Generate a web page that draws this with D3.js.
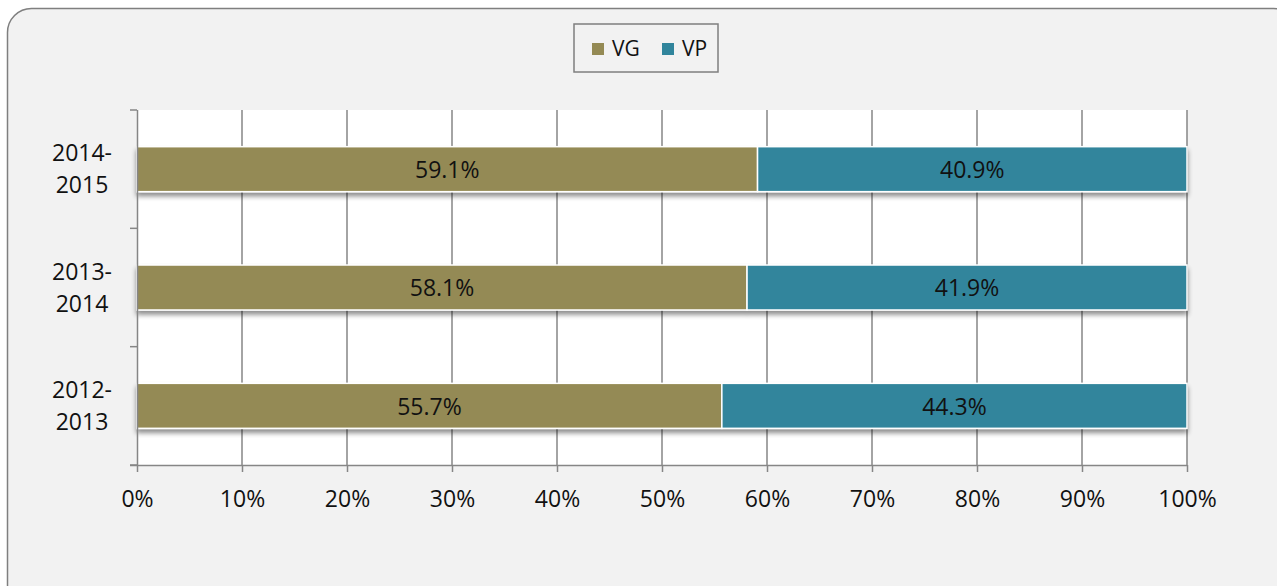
<!DOCTYPE html>
<html>
<head>
<meta charset="utf-8">
<script src="https://cdn.jsdelivr.net/npm/d3@7"></script>
<style>
  body { margin: 0; background: #fff; }
  svg { display: block; font-family: "Open Sans", sans-serif; }
</style>
</head>
<body>
<div id="chart"></div>
<script>
var categories = ["2014-2015", "2013-2014", "2012-2013"];
var vgValues = [59.1, 58.1, 55.7];
var vpValues = [40.9, 41.9, 44.3];
var seriesNames = ["VG", "VP"];
var seriesColors = ["#948a54", "#31859c"];
var xTicks = [0, 10, 20, 30, 40, 50, 60, 70, 80, 90, 100];

var W = 1277, H = 586;
var margin = { top: 110, right: 90, bottom: 121, left: 137 };
var w = W - margin.left - margin.right,
    h = H - margin.top - margin.bottom;
var fontSize = 23;

var svg = d3.select("#chart").append("svg")
  .attr("width", W)
  .attr("height", H);

var defs = svg.append("defs");
var shadow = defs.append("filter").attr("id", "shadow")
  .attr("x", "-5%").attr("y", "-20%").attr("width", "110%").attr("height", "160%");
shadow.append("feGaussianBlur").attr("in", "SourceAlpha").attr("stdDeviation", 2.5);
shadow.append("feOffset").attr("dx", 0).attr("dy", 4).attr("result", "blur");
shadow.append("feComponentTransfer").append("feFuncA").attr("type", "linear").attr("slope", 0.45);
var merge = shadow.append("feMerge");
merge.append("feMergeNode");
merge.append("feMergeNode").attr("in", "SourceGraphic");

// outer frame
svg.append("rect")
  .attr("x", 7.5).attr("y", 8.5)
  .attr("width", 1290).attr("height", 600)
  .attr("rx", 24)
  .attr("fill", "#f2f2f2")
  .attr("stroke", "#7f7f7f")
  .attr("stroke-width", 1.5);

var g = svg.append("g")
  .attr("transform", "translate(" + margin.left + "," + margin.top + ")");

g.append("rect")
  .attr("width", w).attr("height", h)
  .attr("fill", "#fff");

var xScale = d3.scaleLinear().domain([0, 100]).range([0, w]);
var yScale = d3.scaleBand().domain(categories).range([0, h]).paddingInner(0.62).paddingOuter(0.31);
var yBand = d3.scaleBand().domain(categories).range([0, h]);

// gridlines
g.selectAll(".grid")
  .data(xTicks.slice(1))
  .enter().append("line")
  .attr("class", "grid")
  .attr("x1", function(d) { return xScale(d); })
  .attr("x2", function(d) { return xScale(d); })
  .attr("y1", 0).attr("y2", h)
  .attr("stroke", "#868686")
  .attr("stroke-width", 1.5);

var rows = categories.map(function(c, i) {
  return { cat: c, vg: vgValues[i], vp: vpValues[i] };
});

var rowG = g.selectAll(".row")
  .data(rows)
  .enter().append("g")
  .attr("class", "row")
  .attr("filter", "url(#shadow)");

rowG.append("rect")
  .attr("x", xScale(0))
  .attr("y", function(d) { return yScale(d.cat); })
  .attr("width", function(d) { return xScale(d.vg) - xScale(0); })
  .attr("height", yScale.bandwidth())
  .attr("fill", seriesColors[0])
  .attr("stroke", "#fff").attr("stroke-width", 1.5);

rowG.append("rect")
  .attr("x", function(d) { return xScale(d.vg); })
  .attr("y", function(d) { return yScale(d.cat); })
  .attr("width", function(d) { return xScale(d.vg + d.vp) - xScale(d.vg); })
  .attr("height", yScale.bandwidth())
  .attr("fill", seriesColors[1])
  .attr("stroke", "#fff").attr("stroke-width", 1.5);

g.selectAll(".lblvg")
  .data(rows)
  .enter().append("text")
  .attr("x", function(d) { return xScale(d.vg / 2); })
  .attr("y", function(d) { return yScale(d.cat) + yScale.bandwidth() / 2; })
  .attr("dy", "0.38em")
  .attr("text-anchor", "middle")
  .attr("font-size", fontSize)
  .attr("fill", "#111")
  .text(function(d) { return d.vg.toFixed(1) + "%"; });

g.selectAll(".lblvp")
  .data(rows)
  .enter().append("text")
  .attr("x", function(d) { return xScale(d.vg + d.vp / 2); })
  .attr("y", function(d) { return yScale(d.cat) + yScale.bandwidth() / 2; })
  .attr("dy", "0.38em")
  .attr("text-anchor", "middle")
  .attr("font-size", fontSize)
  .attr("fill", "#111")
  .text(function(d) { return d.vp.toFixed(1) + "%"; });

// axes
var xAxis = d3.axisBottom(xScale)
  .tickValues(xTicks)
  .tickSize(7)
  .tickPadding(19)
  .tickFormat(function(d) { return d + "%"; });
var xAxisG = g.append("g")
  .attr("transform", "translate(0," + h + ")")
  .call(xAxis);

var yAxis = d3.axisLeft(yBand).tickSize(0).tickFormat("");
var yAxisG = g.append("g").call(yAxis);

// y tick marks at band boundaries
g.selectAll(".ytick")
  .data(d3.range(categories.length + 1))
  .enter().append("line")
  .attr("x1", -7).attr("x2", 0)
  .attr("y1", function(d) { return d * yBand.step(); })
  .attr("y2", function(d) { return d * yBand.step(); })
  .attr("stroke", "#868686").attr("stroke-width", 1.5);

[xAxisG, yAxisG].forEach(function(a) {
  a.select(".domain").attr("stroke", "#868686").attr("stroke-width", 1.5);
  a.selectAll(".tick line").attr("stroke", "#868686").attr("stroke-width", 1.5);
  a.selectAll("text").attr("font-size", fontSize).attr("fill", "#111")
    .attr("font-family", "'Open Sans', sans-serif");
});
yAxisG.select(".domain").attr("d", "M0.5,0V" + h);
xAxisG.select(".domain").attr("d", "M-7," + 0.5 + "H" + w);

// category labels on two lines
g.selectAll(".catlbl")
  .data(categories)
  .enter().append("text")
  .attr("text-anchor", "middle")
  .attr("font-size", fontSize)
  .attr("fill", "#111")
  .attr("transform", function(d) {
    return "translate(" + (-55) + "," + (yBand(d) + yBand.bandwidth() / 2) + ")";
  })
  .each(function(d) {
    var parts = d.split("-");
    var t = d3.select(this);
    t.append("tspan").attr("x", 0).attr("y", -8).text(parts[0] + "-");
    t.append("tspan").attr("x", 0).attr("y", 24).text(parts[1]);
  });

// legend
var legend = svg.append("g").attr("transform", "translate(574,24)");
legend.append("rect")
  .attr("width", 144).attr("height", 48)
  .attr("fill", "#f2f2f2")
  .attr("stroke", "#7f7f7f").attr("stroke-width", 1.5);
var legX = [18, 88];
seriesNames.forEach(function(s, i) {
  legend.append("rect")
    .attr("x", legX[i]).attr("y", 19)
    .attr("width", 12).attr("height", 12)
    .attr("fill", seriesColors[i]);
  legend.append("text")
    .attr("x", legX[i] + 20).attr("y", 32)
    .attr("font-size", 21).attr("fill", "#111")
    .text(s);
});
</script>
</body>
</html>
